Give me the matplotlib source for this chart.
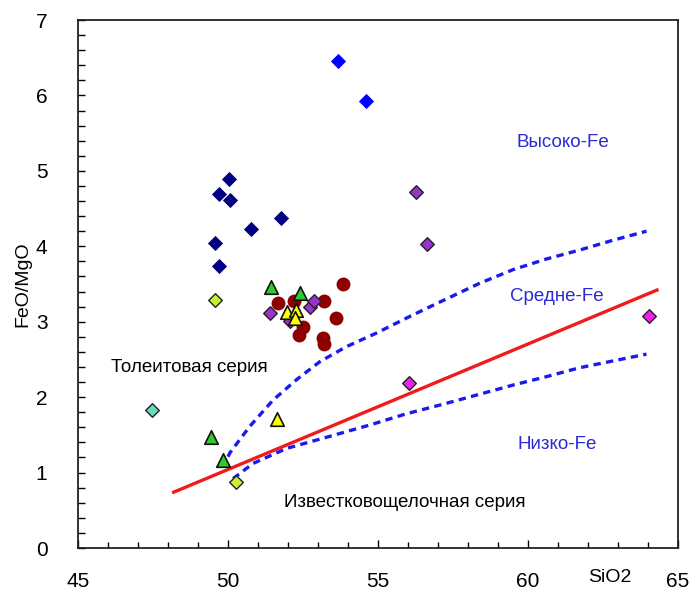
import matplotlib
matplotlib.use("Agg")
import matplotlib.pyplot as plt
from matplotlib.ticker import MultipleLocator

plt.rcParams['font.family'] = ['Liberation Sans', 'DejaVu Sans']

# ---- data ----
navy_x = [50.03, 49.70, 50.08, 51.75, 50.76, 49.58, 49.70]
navy_y = [4.89, 4.69, 4.62, 4.38, 4.23, 4.05, 3.74]

blue_x = [53.67, 54.60]
blue_y = [6.46, 5.93]

lime_x = [49.56, 50.28]
lime_y = [3.29, 0.88]

aqua_x = [47.45]
aqua_y = [1.83]

green_x = [49.42, 49.83, 51.42, 52.41]
green_y = [1.47, 1.17, 3.46, 3.38]

yellow_x = [51.97, 52.25, 52.22, 51.63]
yellow_y = [3.13, 3.15, 3.05, 1.71]

purple_x = [51.39, 52.06, 52.72, 52.87, 56.25, 56.63]
purple_y = [3.12, 3.01, 3.19, 3.27, 4.72, 4.03]

magenta_x = [64.02, 56.02]
magenta_y = [3.08, 2.19]

red_x = [51.67, 52.20, 53.83, 53.19, 53.59, 52.50, 52.35, 53.17, 53.19]
red_y = [3.25, 3.28, 3.50, 3.28, 3.05, 2.93, 2.82, 2.78, 2.70]

# boundary lines
tholeiite_x = [48.19, 64.30]
tholeiite_y = [0.74, 3.42]

upper_x = [50.00, 50.06, 50.72, 51.50, 52.28, 53.06, 53.95, 54.95, 56.06, 57.11, 58.39, 59.50, 60.60, 61.72, 62.83, 63.95]
upper_y = [1.21, 1.26, 1.61, 1.96, 2.23, 2.47, 2.67, 2.85, 3.07, 3.27, 3.51, 3.69, 3.83, 3.95, 4.08, 4.20]

lower_x = [50.17, 50.83, 51.95, 53.39, 54.72, 55.95, 57.11, 57.94, 59.50, 60.60, 61.72, 62.83, 63.95]
lower_y = [0.92, 1.12, 1.32, 1.48, 1.63, 1.78, 1.90, 1.99, 2.16, 2.27, 2.39, 2.48, 2.57]

xticks = [45, 50, 55, 60, 65]
yticks = [0, 1, 2, 3, 4, 5, 6, 7]

# ---- figure ----
fig = plt.figure(figsize=(6.89, 5.91), dpi=100)
ax = fig.add_axes([78 / 689, 1 - 548 / 591, 600 / 689, 528 / 591])

dash_col = '#1a1aee'
ax.plot(upper_x, upper_y, color=dash_col, lw=2.4, dashes=(2.2, 1.6), zorder=2)
ax.plot(lower_x, lower_y, color=dash_col, lw=2.4, dashes=(2.2, 1.6), zorder=2)
ax.plot(tholeiite_x, tholeiite_y, color='#ee1c1c', lw=2.4, zorder=2)

ax.scatter(navy_x, navy_y, marker='D', s=60, color='#000080', zorder=3, linewidths=0)
ax.scatter(blue_x, blue_y, marker='D', s=60, color='#0000ff', zorder=3, linewidths=0)
ax.scatter(red_x, red_y, marker='o', s=100, color='#8e0000', zorder=3, linewidths=0)
ax.scatter(lime_x, lime_y, marker='D', s=48, color='#c8f032', edgecolors='#222222', linewidths=1.0, zorder=4)
ax.scatter(aqua_x, aqua_y, marker='D', s=48, color='#66dbbf', edgecolors='#222222', linewidths=1.0, zorder=4)
ax.scatter(purple_x, purple_y, marker='D', s=48, color='#9933cc', edgecolors='#222222', linewidths=1.0, zorder=4)
ax.scatter(magenta_x, magenta_y, marker='D', s=48, color='#ee22ee', edgecolors='#222222', linewidths=1.0, zorder=4)
ax.scatter(green_x, green_y, marker='^', s=95, color='#2ecc2e', edgecolors='#111111', linewidths=1.2, zorder=5)
ax.scatter(yellow_x, yellow_y, marker='^', s=95, color='#ffff00', edgecolors='#111111', linewidths=1.2, zorder=5)

txt_blue = '#2a2ad0'
fs = 13.5
ax.text(61.16, 5.37, 'Высоко-Fe', color=txt_blue, fontsize=fs, ha='center', va='center')
ax.text(60.96, 3.33, 'Средне-Fe', color=txt_blue, fontsize=fs, ha='center', va='center')
ax.text(60.96, 1.37, 'Низко-Fe', color=txt_blue, fontsize=fs, ha='center', va='center')
ax.text(48.72, 2.39, 'Толеитовая серия', color='black', fontsize=fs, ha='center', va='center')
ax.text(55.9, 0.60, 'Известковощелочная серия', color='black', fontsize=fs, ha='center', va='center')

ax.set_xlim(45, 65)
ax.set_ylim(0, 7)
ax.set_xticks(xticks)
ax.set_yticks(yticks)
ax.xaxis.set_minor_locator(MultipleLocator(1))
ax.yaxis.set_minor_locator(MultipleLocator(0.2))
ax.tick_params(axis='x', which='major', direction='in', length=6, width=1.0, pad=17, labelsize=15)
ax.tick_params(axis='x', which='minor', direction='in', length=4, width=1.0)
ax.tick_params(axis='y', which='major', direction='in', length=5, width=1.0, pad=22, labelsize=15)
ax.tick_params(axis='y', which='minor', direction='in', length=5, width=1.0)

for sp in ax.spines.values():
    sp.set_linewidth(1.3)
    sp.set_color('#222222')

ax.set_ylabel('FeO/MgO', fontsize=14, labelpad=3)
fig.text(610 / 689, 1 - 577 / 591, 'SiO2', fontsize=14, ha='center', va='center')

fig.savefig('out.png', dpi=100, facecolor='white')
